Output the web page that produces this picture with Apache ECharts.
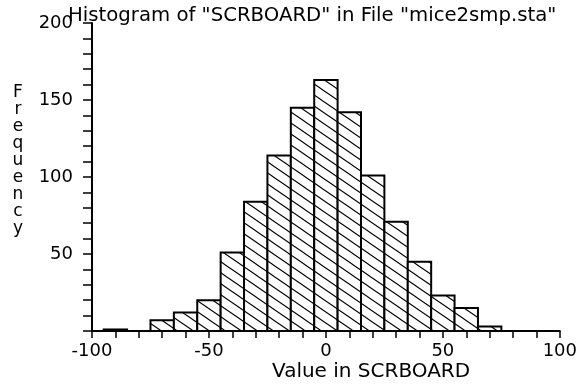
<!DOCTYPE html>
<html>
<head>
<meta charset="utf-8">
<script src="https://cdn.jsdelivr.net/npm/echarts@6/dist/echarts.min.js"></script>
<style>
  html, body { margin: 0; padding: 0; background: #fff; }
  #chart { width: 580px; height: 386px; }
</style>
</head>
<body>
<div id="chart"></div>
<script>
// histogram bins (centre of each 10-wide bin) and their counts
const binCenters = [-90, -70, -60, -50, -40, -30, -20, -10, 0, 10, 20, 30, 40, 50, 60, 70]
const counts = [1, 7, 12, 20, 51, 84, 114, 145, 163, 142, 101, 71, 45, 23, 15, 3]
const binWidth = 10
const xLabelStep = 50
const yLabelStep = 50

const FONT = 'DejaVu Sans'

// diagonal hatch tile
function makeHatch() {
  const c = document.createElement('canvas')
  c.width = 16
  c.height = 11
  const ctx = c.getContext('2d')
  ctx.fillStyle = '#fff'
  ctx.fillRect(0, 0, 16, 11)
  ctx.strokeStyle = '#000'
  ctx.lineWidth = 1.1
  ctx.beginPath()
  for (let k = -1; k <= 1; k++) {
    ctx.moveTo(-16 + k * 16, -11)
    ctx.lineTo(32 + k * 16, 22)
  }
  ctx.stroke()
  return c
}
const hatch = makeHatch()

const chart = echarts.init(document.getElementById('chart'))
chart.setOption({
  animation: false,
  backgroundColor: '#fff',
  title: {
    text: 'Histogram of "SCRBOARD" in File "mice2smp.sta"',
    left: 63,
    top: 1,
    textStyle: { fontFamily: FONT, fontSize: 19.7, fontWeight: 'normal', color: '#000' }
  },
  grid: { left: 92, right: 19, top: 23, bottom: 55, containLabel: false },
  xAxis: {
    type: 'value',
    min: -100,
    max: 100,
    interval: 10,
    splitLine: { show: false },
    axisLine: { show: true, onZero: false, lineStyle: { color: '#000', width: 2 } },
    axisTick: { show: true, length: 7, lineStyle: { color: '#000', width: 1.5 } },
    axisLabel: {
      margin: 11,
      color: '#000',
      fontFamily: FONT,
      fontSize: 18,
      formatter: v => (v % xLabelStep === 0 ? String(v) : '')
    }
  },
  yAxis: {
    type: 'value',
    min: 0,
    max: 200,
    interval: 10,
    splitLine: { show: false },
    axisLine: { show: true, onZero: false, lineStyle: { color: '#000', width: 2 } },
    axisTick: { show: true, length: 9, lineStyle: { color: '#000', width: 1.5 } },
    axisLabel: {
      margin: 19,
      color: '#000',
      fontFamily: FONT,
      fontSize: 18,
      formatter: v => (v !== 0 && v % yLabelStep === 0 ? String(v) : '')
    }
  },
  graphic: [
    {
      type: 'text',
      x: 18,
      y: 84,
      style: {
        text: 'Frequency'.split('').join('\n'),
        fontFamily: FONT,
        fontSize: 17,
        lineHeight: 17,
        align: 'center',
        verticalAlign: 'top',
        fill: '#000'
      }
    },
    {
      type: 'text',
      left: 272,
      top: 362,
      style: {
        text: 'Value in SCRBOARD',
        fontFamily: FONT,
        fontSize: 20,
        fill: '#000'
      }
    }
  ],
  series: [
    {
      type: 'custom',
      data: binCenters.map((x, i) => [x, counts[i]]),
      renderItem(params, api) {
        const x = api.value(0)
        const y = api.value(1)
        const p0 = api.coord([x - binWidth / 2, y])
        const p1 = api.coord([x + binWidth / 2, 0])
        return {
          type: 'rect',
          shape: { x: p0[0], y: p0[1], width: p1[0] - p0[0], height: p1[1] - p0[1] },
          style: {
            fill: { image: hatch, repeat: 'repeat' },
            stroke: '#000',
            lineWidth: 2
          }
        }
      }
    }
  ]
})
</script>
</body>
</html>
